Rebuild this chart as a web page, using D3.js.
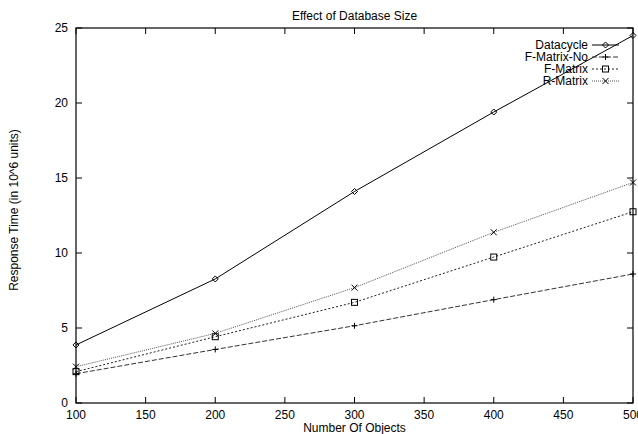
<!DOCTYPE html>
<html>
<head>
<meta charset="utf-8">
<script src="https://cdn.jsdelivr.net/npm/d3@7"></script>
<style>
  body { margin: 0; background: #fff; }
  text { font-family: "Liberation Sans", Arial, sans-serif; fill: #000; }
</style>
</head>
<body>
<div id="chart"></div>
<script>
const objects = [100, 200, 300, 400, 500];
const datacycle = [3.87, 8.27, 14.1, 19.4, 24.5];
const fMatrixNo = [1.95, 3.57, 5.15, 6.89, 8.6];
const fMatrix = [2.09, 4.42, 6.71, 9.73, 12.75];
const rMatrix = [2.42, 4.64, 7.69, 11.38, 14.7];
const xTicks = [100, 150, 200, 250, 300, 350, 400, 450, 500];
const yTicks = [0, 5, 10, 15, 20, 25];

const series = [
  { name: 'Datacycle', values: datacycle, marker: 'diamond', dash: null, color: '#000' },
  { name: 'F-Matrix-No', values: fMatrixNo, marker: 'plus', dash: '5,2', color: '#333' },
  { name: 'F-Matrix', values: fMatrix, marker: 'square', dash: '2,2', color: '#222' },
  { name: 'R-Matrix', values: rMatrix, marker: 'cross', dash: '1,1', color: '#555' },
];

const width = 638, height = 434;
const margin = { top: 28, right: 5, bottom: 31, left: 76 };
const innerW = 633 - margin.left;
const innerH = 403 - margin.top;
const fs = '12px';

const svg = d3.select('#chart').append('svg')
  .attr('width', width)
  .attr('height', height);

const x = d3.scaleLinear().domain([100, 500]).range([margin.left, margin.left + innerW]);
const y = d3.scaleLinear().domain([0, 25]).range([margin.top + innerH, margin.top]);

// title
svg.append('text')
  .attr('x', (x(100) + x(500)) / 2)
  .attr('y', 20)
  .attr('text-anchor', 'middle')
  .style('font-size', fs)
  .text('Effect of Database Size');

// ticks (inward, mirrored)
const tickLen = 6;
const tg = svg.append('g').attr('stroke', '#000').attr('stroke-width', 1);
xTicks.forEach(function (t) {
  tg.append('line').attr('x1', x(t)).attr('x2', x(t)).attr('y1', y(0)).attr('y2', y(0) - tickLen);
  tg.append('line').attr('x1', x(t)).attr('x2', x(t)).attr('y1', y(25)).attr('y2', y(25) + tickLen);
});
yTicks.forEach(function (t) {
  tg.append('line').attr('x1', x(100)).attr('x2', x(100) + tickLen).attr('y1', y(t)).attr('y2', y(t));
  tg.append('line').attr('x1', x(500)).attr('x2', x(500) - tickLen).attr('y1', y(t)).attr('y2', y(t));
});

// frame
svg.append('rect')
  .attr('x', x(100)).attr('y', y(25))
  .attr('width', x(500) - x(100)).attr('height', y(0) - y(25))
  .attr('fill', 'none').attr('stroke', '#000').attr('stroke-width', 1.2);

// tick labels
svg.append('g').selectAll('text').data(xTicks).join('text')
  .attr('x', function (d) { return x(d); })
  .attr('y', y(0) + 16)
  .attr('text-anchor', 'middle')
  .style('font-size', fs)
  .text(function (d) { return d; });

svg.append('g').selectAll('text').data(yTicks).join('text')
  .attr('x', x(100) - 8)
  .attr('y', function (d) { return y(d) + 4; })
  .attr('text-anchor', 'end')
  .style('font-size', fs)
  .text(function (d) { return d; });

// axis titles
svg.append('text')
  .attr('x', (x(100) + x(500)) / 2)
  .attr('y', 432)
  .attr('text-anchor', 'middle')
  .style('font-size', fs)
  .text('Number Of Objects');

svg.append('text')
  .attr('transform', 'translate(18,' + 210 + ') rotate(-90)')
  .attr('text-anchor', 'middle')
  .style('font-size', fs)
  .text('Response Time (in 10^6 units)');

// markers
function drawMarker(g, type, cx, cy, color) {
  const s = 3;
  if (type === 'diamond') {
    g.append('path')
      .attr('d', 'M' + cx + ',' + (cy - s) + 'L' + (cx + s) + ',' + cy + 'L' + cx + ',' + (cy + s) + 'L' + (cx - s) + ',' + cy + 'Z')
      .attr('fill', 'none').attr('stroke', color).attr('stroke-width', 1);
  } else if (type === 'plus') {
    g.append('path')
      .attr('d', 'M' + (cx - s) + ',' + cy + 'H' + (cx + s) + 'M' + cx + ',' + (cy - s) + 'V' + (cy + s))
      .attr('stroke', color).attr('stroke-width', 1);
  } else if (type === 'square') {
    g.append('rect')
      .attr('x', cx - s).attr('y', cy - s).attr('width', 2 * s).attr('height', 2 * s)
      .attr('fill', 'none').attr('stroke', color).attr('stroke-width', 1);
  } else if (type === 'cross') {
    g.append('path')
      .attr('d', 'M' + (cx - s) + ',' + (cy - s) + 'L' + (cx + s) + ',' + (cy + s) + 'M' + (cx - s) + ',' + (cy + s) + 'L' + (cx + s) + ',' + (cy - s))
      .attr('stroke', color).attr('stroke-width', 1);
  }
}

const line = d3.line()
  .x(function (d, i) { return x(objects[i]); })
  .y(function (d) { return y(d); });

series.forEach(function (s) {
  const g = svg.append('g');
  g.append('path')
    .datum(s.values)
    .attr('d', line)
    .attr('fill', 'none')
    .attr('stroke', s.color)
    .attr('stroke-width', 1)
    .attr('stroke-dasharray', s.dash);
  s.values.forEach(function (v, i) {
    drawMarker(g, s.marker, x(objects[i]), y(v), '#000');
  });
});

// legend
const legend = svg.append('g');
series.forEach(function (s, i) {
  const ly = 45 + i * 12;
  legend.append('text')
    .attr('x', 588)
    .attr('y', ly + 4)
    .attr('text-anchor', 'end')
    .style('font-size', fs)
    .text(s.name);
  legend.append('line')
    .attr('x1', 592).attr('x2', 619)
    .attr('y1', ly).attr('y2', ly)
    .attr('stroke', s.color).attr('stroke-width', 1)
    .attr('stroke-dasharray', s.dash);
  drawMarker(legend, s.marker, 605.5, ly, '#000');
});
</script>
</body>
</html>
